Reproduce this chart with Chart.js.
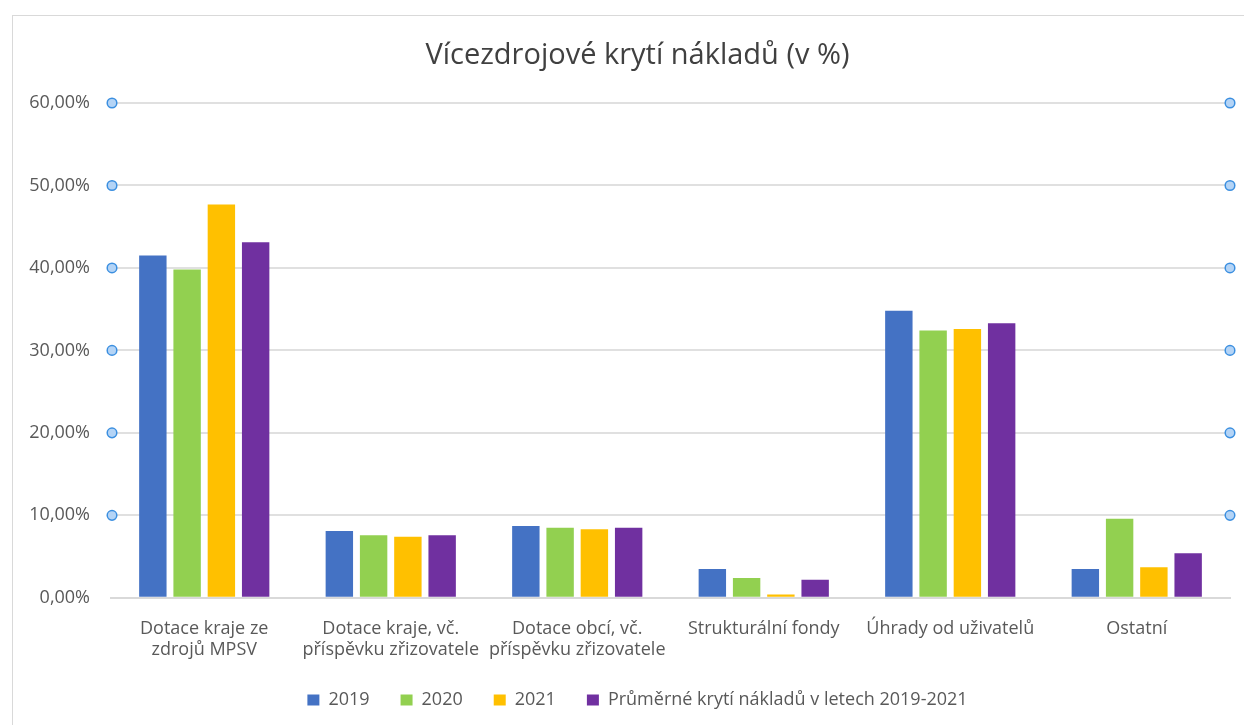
<!DOCTYPE html>
<html lang="cs">
<head>
  <meta charset="UTF-8">
  <title>Vícezdrojové krytí nákladů</title>
  <script src="https://cdn.jsdelivr.net/npm/chart.js"></script>
  <style>
    body {
      margin: 0;
      background: #fff;
      overflow: hidden;
      font-family: "Open Sans", sans-serif;
    }
    .frame {
      position: absolute;
      left: 12px;
      top: 15px;
      width: 1300px;
      height: 800px;
      border-left: 1px solid #d9d9d9;
      border-top: 1px solid #d9d9d9;
    }
    .chart-container {
      position: absolute;
      left: 0;
      top: 0;
      width: 1275px;
      height: 725px;
    }
  </style>
</head>
<body>
  <div class="frame"></div>
  <div class="chart-container">
    <canvas id="chart"></canvas>
  </div>

  <script>
    const categories = [
      ['Dotace kraje ze', 'zdrojů MPSV'],
      ['Dotace kraje, vč.', 'příspěvku zřizovatele'],
      ['Dotace obcí, vč.', 'příspěvku zřizovatele'],
      'Strukturální fondy',
      'Úhrady od uživatelů',
      'Ostatní'
    ];
    const values2019 = [41.5, 8.1, 8.7, 3.5, 34.8, 3.5];
    const values2020 = [39.8, 7.6, 8.5, 2.4, 32.4, 9.6];
    const values2021 = [47.7, 7.4, 8.3, 0.4, 32.6, 3.7];
    const valuesAvg = [43.1, 7.6, 8.5, 2.2, 33.3, 5.4];
    const yTickLabels = ['0,00%', '10,00%', '20,00%', '30,00%', '40,00%', '50,00%', '60,00%'];

    // little selection handles at both ends of each gridline
    const handles = {
      id: 'handles',
      afterDraw(chart) {
        const ctx = chart.ctx;
        const y = chart.scales.y;
        const area = chart.chartArea;
        ctx.save();
        y.ticks.forEach(t => {
          if (t.value === 0) return;
          const py = y.getPixelForValue(t.value);
          [area.left + 1, area.right].forEach(px => {
            ctx.beginPath();
            ctx.arc(px, py, 4.8, 0, Math.PI * 2);
            ctx.fillStyle = '#b4d4f6';
            ctx.fill();
            ctx.lineWidth = 1.5;
            ctx.strokeStyle = '#3b8fe0';
            ctx.stroke();
          });
        });
        ctx.restore();
      }
    };

    const textColor = '#595959';
    const labelFont = { family: 'Open Sans', size: 18 };

    new Chart(document.getElementById('chart'), {
      type: 'bar',
      data: {
        labels: categories,
        datasets: [
          { label: '2019', data: values2019, backgroundColor: '#4472C4' },
          { label: '2020', data: values2020, backgroundColor: '#92D050' },
          { label: '2021', data: values2021, backgroundColor: '#FFC000' },
          { label: 'Průměrné krytí nákladů v letech 2019-2021', data: valuesAvg, backgroundColor: '#7030A0' }
        ]
      },
      options: {
        responsive: true,
        maintainAspectRatio: false,
        animation: false,
        layout: {
          padding: { left: 0, right: 0, top: 0, bottom: 6 }
        },
        datasets: {
          bar: { categoryPercentage: 0.735, barPercentage: 0.8 }
        },
        plugins: {
          title: {
            display: true,
            text: 'Vícezdrojové krytí nákladů (v %)',
            color: '#404040',
            font: { family: 'Open Sans', size: 29, weight: 'normal' },
            padding: { top: 38, bottom: 30.2 }
          },
          legend: {
            position: 'bottom',
            labels: {
              color: textColor,
              font: labelFont,
              boxWidth: 12,
              boxHeight: 11,
              padding: 31
            }
          },
          tooltip: { enabled: false }
        },
        scales: {
          x: {
            grid: { display: false },
            border: { color: '#d9d9d9', width: 2 },
            ticks: {
              color: textColor,
              font: { family: 'Open Sans', size: 18, lineHeight: 1.2 },
              maxRotation: 0,
              autoSkip: false,
              padding: 12
            },
            afterFit: scale => { scale.height -= 13; }
          },
          y: {
            min: 0,
            max: 60,
            grid: { color: '#e0e0e0', lineWidth: 2, drawTicks: false },
            border: { display: false },
            ticks: {
              stepSize: 10,
              color: textColor,
              font: labelFont,
              padding: 21,
              callback: (v, i) => yTickLabels[i]
            },
            afterFit: scale => { scale.width = 111; }
          },
          // empty right box, keeps title and legend centred as in the original
          yRight: {
            position: 'right',
            display: true,
            grid: { display: false },
            border: { display: false },
            ticks: { display: false },
            afterFit: scale => { scale.width = 45; }
          }
        }
      },
      plugins: [handles]
    });
  </script>
</body>
</html>
